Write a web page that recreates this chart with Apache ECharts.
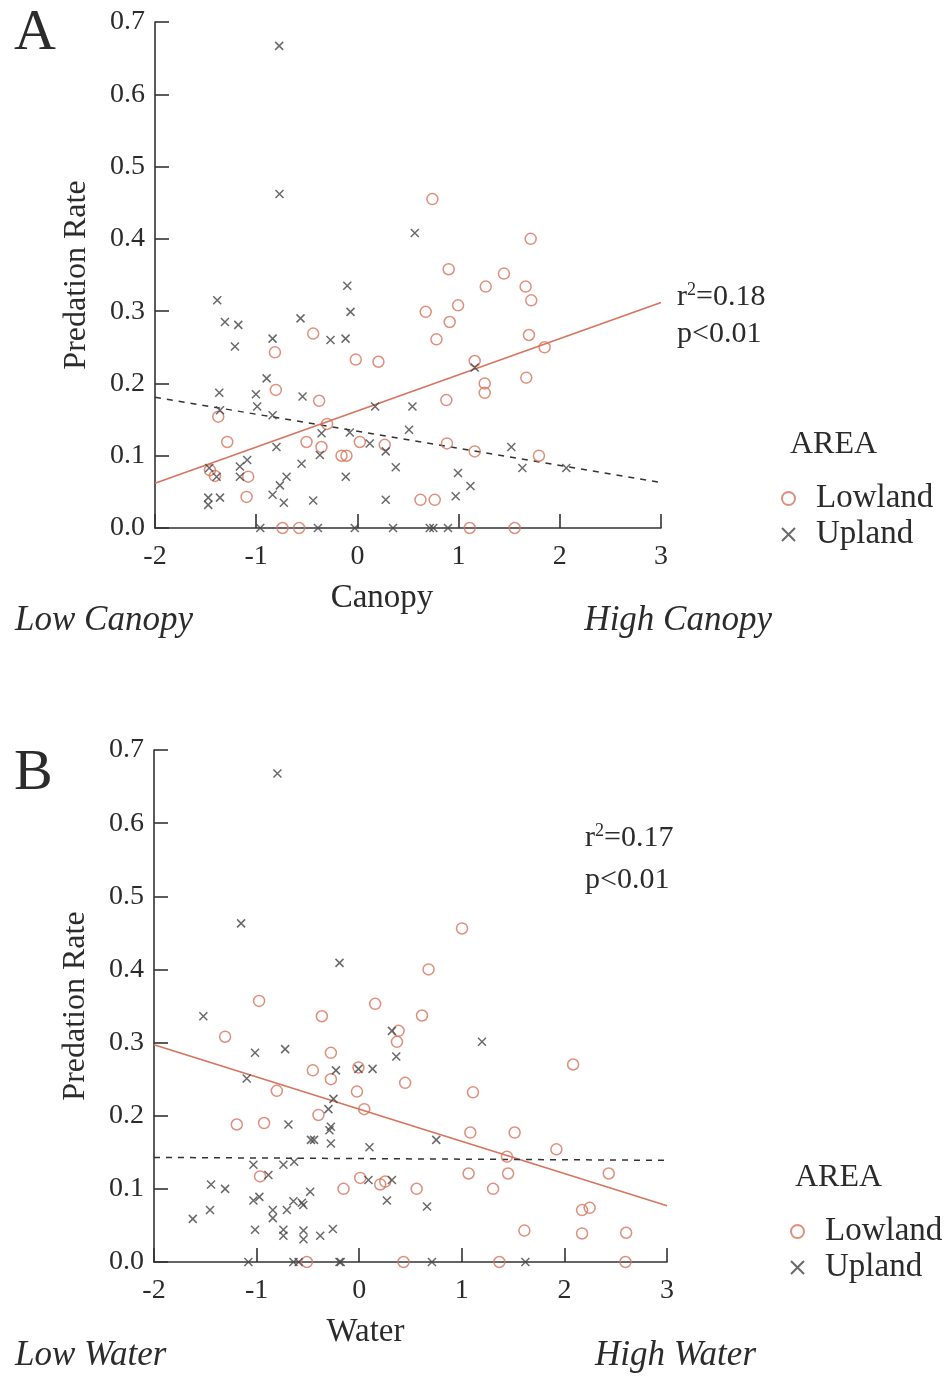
<!DOCTYPE html>
<html>
<head>
<meta charset="utf-8">
<script src="https://cdn.jsdelivr.net/npm/echarts@6/dist/echarts.min.js"></script>
<style>
  html, body { margin: 0; padding: 0; background: #fff; }
  #chart { width: 944px; height: 1376px; }
</style>
</head>
<body>
<div id="chart"></div>
<script>
// panel A: predation rate vs canopy
var canopyLowland = [
  [-0.437, 0.269], [-0.815, 0.243], [-0.016, 0.233], [0.208, 0.230], [-0.806, 0.191],
  [-0.378, 0.176], [-1.375, 0.154], [-0.30, 0.144], [-1.286, 0.119], [-0.503, 0.119],
  [-0.355, 0.112], [0.024, 0.119], [0.27, 0.115], [-0.157, 0.100], [-0.108, 0.100],
  [-1.457, 0.080], [-1.408, 0.072], [-1.079, 0.071], [-1.095, 0.043], [-0.74, 0],
  [-0.576, 0], [0.623, 0.039], [0.764, 0.039], [0.741, 0.455], [1.712, 0.400],
  [0.902, 0.358], [1.448, 0.352], [1.268, 0.334], [1.662, 0.334], [1.718, 0.315],
  [0.675, 0.299], [0.995, 0.308], [0.912, 0.285], [0.781, 0.261], [1.695, 0.267],
  [1.85, 0.250], [1.159, 0.231], [1.258, 0.200], [1.258, 0.187], [1.669, 0.208],
  [0.879, 0.177], [0.885, 0.117], [1.159, 0.106], [1.794, 0.100], [1.11, 0],
  [1.554, 0]
];
var canopyUpland = [
  [-0.773, 0.667], [-0.77, 0.462], [0.567, 0.408], [-0.10, 0.335], [-1.385, 0.315],
  [-0.068, 0.299], [-1.309, 0.285], [-1.177, 0.281], [-0.562, 0.290], [-1.21, 0.251],
  [-0.838, 0.262], [-0.266, 0.260], [-0.117, 0.262], [-0.897, 0.207], [-1.365, 0.187],
  [-1.003, 0.185], [-0.542, 0.182], [-0.99, 0.168], [-1.358, 0.163], [-0.838, 0.156],
  [0.175, 0.168], [0.544, 0.168], [0.51, 0.136], [-0.354, 0.131], [-0.075, 0.132],
  [0.122, 0.117], [0.28, 0.106], [0.379, 0.084], [-0.80, 0.112], [-0.371, 0.101],
  [-1.089, 0.094], [-1.161, 0.085], [-0.552, 0.089], [-1.464, 0.083], [-1.391, 0.071],
  [-1.161, 0.071], [-0.70, 0.071], [-0.115, 0.071], [-0.766, 0.059], [-0.838, 0.046],
  [-0.727, 0.035], [-0.437, 0.038], [-1.474, 0.042], [-1.358, 0.042], [-1.474, 0.032],
  [0.28, 0.039], [-0.96, 0], [-0.39, 0], [-0.026, 0], [0.352, 0],
  [1.159, 0.222], [1.521, 0.112], [1.63, 0.083], [2.064, 0.083], [0.994, 0.076],
  [1.117, 0.058], [0.971, 0.044], [0.715, 0], [0.75, 0], [0.895, 0]
];
var canopyFitLowland = [[-2, 0.062], [3, 0.312]];
var canopyFitUpland = [[-2, 0.181], [3, 0.063]];

// panel B: predation rate vs water
var waterLowland = [
  [1.002, 0.456], [0.676, 0.400], [-0.976, 0.357], [0.156, 0.353], [-0.364, 0.336],
  [0.612, 0.337], [-1.307, 0.308], [-0.276, 0.286], [-0.452, 0.262], [-0.276, 0.250],
  [-0.007, 0.266], [-0.022, 0.233], [0.049, 0.209], [-0.803, 0.234], [-0.397, 0.201],
  [-1.193, 0.188], [-0.927, 0.190], [0.384, 0.316], [0.368, 0.301], [0.448, 0.245],
  [-0.966, 0.117], [-0.153, 0.100], [0.01, 0.115], [0.205, 0.106], [0.254, 0.110],
  [0.56, 0.100], [-0.51, 0], [0.432, 0], [2.085, 0.270], [1.109, 0.232],
  [1.083, 0.177], [1.515, 0.177], [1.922, 0.154], [1.44, 0.144], [1.066, 0.121],
  [1.451, 0.121], [1.305, 0.100], [2.432, 0.121], [2.172, 0.071], [2.246, 0.074],
  [1.61, 0.043], [2.172, 0.039], [2.602, 0.040], [1.366, 0], [2.595, 0]
];
var waterUpland = [
  [-0.797, 0.668], [-1.151, 0.463], [-0.192, 0.409], [-1.519, 0.336], [-1.015, 0.286],
  [-0.722, 0.291], [-1.096, 0.251], [0.319, 0.316], [0.361, 0.281], [-0.227, 0.262],
  [0.13, 0.264], [-0.007, 0.264], [-0.251, 0.223], [-0.3, 0.209], [-0.276, 0.185],
  [-0.29, 0.180], [-0.69, 0.188], [-0.47, 0.167], [-0.44, 0.167], [-0.276, 0.162],
  [0.1, 0.157], [-1.031, 0.133], [-0.885, 0.119], [-0.739, 0.133], [-0.634, 0.137],
  [-1.444, 0.106], [-1.307, 0.100], [0.09, 0.112], [0.319, 0.112], [-1.031, 0.084],
  [-0.973, 0.089], [-1.454, 0.071], [-1.622, 0.059], [-0.842, 0.071], [-0.842, 0.060],
  [-0.705, 0.071], [-0.641, 0.083], [-0.559, 0.081], [-0.545, 0.078], [-0.478, 0.096],
  [0.27, 0.084], [-1.015, 0.044], [-0.739, 0.044], [-0.739, 0.036], [-0.543, 0.043],
  [-0.543, 0.031], [-0.38, 0.036], [-0.257, 0.045], [-1.08, 0], [-0.641, 0],
  [-0.59, 0], [-0.192, 0], [-0.18, 0], [1.197, 0.301], [0.751, 0.167],
  [0.661, 0.076], [0.709, 0], [1.62, 0]
];
var waterFitLowland = [[-2, 0.297], [3, 0.077]];
var waterFitUpland = [[-2, 0.143], [3, 0.139]];

var areaNames = ['Lowland', 'Upland'];

var FONT = '"Liberation Serif", "DejaVu Serif", serif';
var INK = '#2b2b2b';
var RED = '#d8735d';
var crossPath = 'path://M0,0L10,10M10,0L0,10';

function xAx (gridIndex, name, shift) {
  return {
    type: 'value', gridIndex: gridIndex, min: -2, max: 3, interval: 1,
    name: name, nameLocation: 'middle', nameGap: 54,
    nameTextStyle: { fontFamily: FONT, fontSize: 33, color: INK, padding: [0, shift, 0, 0] },
    axisLine: { onZero: false, lineStyle: { color: '#333', width: 1.6 } },
    axisTick: { inside: true, length: 14, lineStyle: { color: '#333', width: 1.6 } },
    axisLabel: { fontFamily: FONT, fontSize: 28, color: INK, margin: 15 },
    splitLine: { show: false }
  };
}
function yAx (gridIndex) {
  return {
    type: 'value', gridIndex: gridIndex, min: 0, max: 0.7, interval: 0.1,
    name: 'Predation Rate', nameLocation: 'middle', nameGap: 62, nameRotate: 90,
    nameTextStyle: { fontFamily: FONT, fontSize: 32, color: INK },
    axisLine: { onZero: false, lineStyle: { color: '#333', width: 1.6 } },
    axisTick: { inside: true, length: 14, lineStyle: { color: '#333', width: 1.6 } },
    axisLabel: {
      fontFamily: FONT, fontSize: 28, color: INK, margin: 10,
      formatter: function (v) { return v.toFixed(1); }
    },
    splitLine: { show: false }
  };
}
function lowSeries (idx, data) {
  return {
    name: 'Lowland', type: 'scatter', xAxisIndex: idx, yAxisIndex: idx, data: data,
    symbol: 'circle', symbolSize: 11,
    itemStyle: { color: 'rgba(255,255,255,0)', borderColor: RED, borderWidth: 1.5 }
  };
}
function upSeries (idx, data) {
  return {
    name: 'Upland', type: 'scatter', xAxisIndex: idx, yAxisIndex: idx, data: data,
    symbol: crossPath, symbolSize: 8,
    itemStyle: { color: 'rgba(255,255,255,0)', borderColor: '#444', borderWidth: 1.5 }
  };
}
function fitLine (idx, data, dashed) {
  return {
    name: dashed ? 'fitUp' : 'fitLow', type: 'line', xAxisIndex: idx, yAxisIndex: idx,
    data: data, symbol: 'none', silent: true, z: 1,
    lineStyle: dashed ? { color: '#333', width: 1.5, type: [6, 6] } : { color: RED, width: 1.6 }
  };
}
function txt (x, y, text, size, extra) {
  var style = Object.assign({ text: text, x: x, y: y, fill: INK, font: size + 'px ' + FONT,
    verticalAlign: 'middle' }, extra || {});
  return { type: 'text', style: style };
}
function stat (x, y, r2) {
  return {
    type: 'text',
    style: {
      x: x, y: y, verticalAlign: 'middle',
      text: '{n|r}{s|2}{n|=' + r2 + '}',
      rich: {
        n: { fontFamily: FONT, fontSize: 30, fill: INK },
        s: { fontFamily: FONT, fontSize: 18, fill: INK, verticalAlign: 'top', padding: [0, 0, 13, 0] }
      }
    }
  };
}
function legendAt (left, top) {
  return {
    orient: 'vertical', left: left, top: top, data: areaNames,
    itemWidth: 13, itemHeight: 13, itemGap: 3,
    textStyle: { fontFamily: FONT, fontSize: 33, color: INK, padding: [0, 0, 0, 16] },
    selectedMode: false
  };
}

var chart = echarts.init(document.getElementById('chart'));
chart.setOption({
  backgroundColor: '#fff',
  animation: false,
  grid: [
    { left: 155, top: 22, width: 506, height: 506 },
    { left: 154, top: 750, width: 513, height: 512 }
  ],
  xAxis: [xAx(0, 'Canopy', 52), xAx(1, 'Water', 90)],
  yAxis: [yAx(0), yAx(1)],
  legend: [legendAt(776, 477), legendAt(785, 1210)],
  series: [
    fitLine(0, canopyFitLowland, false),
    fitLine(0, canopyFitUpland, true),
    lowSeries(0, canopyLowland),
    upSeries(0, canopyUpland),
    fitLine(1, waterFitLowland, false),
    fitLine(1, waterFitUpland, true),
    lowSeries(1, waterLowland),
    upSeries(1, waterUpland)
  ],
  graphic: [
    txt(14, 34, 'A', 58),
    txt(14, 774, 'B', 58),
    stat(677, 297, '0.18'),
    txt(677, 334, 'p<0.01', 30),
    stat(585, 838, '0.17'),
    txt(585, 880, 'p<0.01', 30),
    txt(790, 445, 'AREA', 32),
    txt(795, 1178, 'AREA', 32),
    txt(15, 621, 'Low Canopy', 35, { font: 'italic 35px ' + FONT }),
    txt(772, 621, 'High Canopy', 35, { font: 'italic 35px ' + FONT, align: 'right' }),
    txt(15, 1356, 'Low Water', 35, { font: 'italic 35px ' + FONT }),
    txt(756, 1356, 'High Water', 35, { font: 'italic 35px ' + FONT, align: 'right' })
  ]
});
</script>
</body>
</html>
